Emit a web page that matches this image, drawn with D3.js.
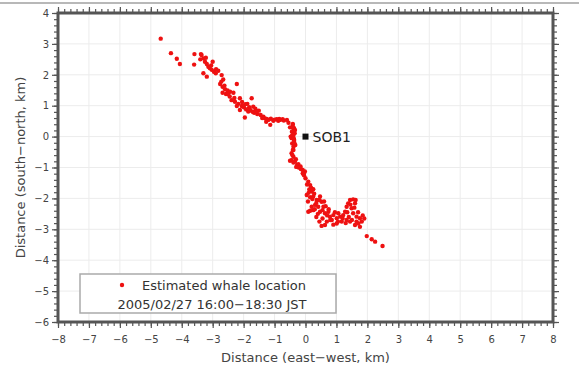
<!DOCTYPE html>
<html>
<head>
<meta charset="utf-8">
<script src="https://cdn.jsdelivr.net/npm/d3@7"></script>
<style>
  body { margin: 0; background: #fff; }
  svg { display: block; font-family: "DejaVu Sans", sans-serif; }
</style>
</head>
<body>
<div id="chart"></div>
<script>
// Estimated whale positions (km)
const whaleX = [
  -4.68, -4.35, -4.16, -4.06, -3.59, -3.60, -3.38,
  -3.36, -3.30, -3.25, -3.19, -3.14, -3.09, -3.03, -2.96, -2.89, -2.82, -3.00, -3.30, -3.19,
  -2.71, -2.66, -2.76, -2.68, -2.60, -2.52, -2.44, -2.33, -2.22, -2.68, -2.57,
  -2.39, -2.28, -2.17, -2.12, -2.06, -1.99, -1.92, -1.88, -1.82, -1.77, -1.74, -1.66, -1.62, -1.56, -1.51,
  -1.96, -2.12, -2.22, -1.69, -1.85,
  -1.31, -1.20, -1.12, -1.04, -0.93, -0.82, -0.74, -1.14, -1.27, -1.36, -0.88,
  -0.41, -0.37, -0.39, -0.44, -0.41, -0.39, -0.44, -0.39, -0.45, -0.37, -0.43, -0.39, -0.41, -0.35, -0.48,
  -0.34, -0.41, -0.37, -0.33, -0.39, -0.45, -0.34, -0.27,
  -0.50, -0.39, -0.31, -0.23, -0.16, -0.09, -0.02, -0.09, -0.39, -0.45,
  0.09, 0.15, 0.12, 0.20, 0.04, 0.15, 0.25, 0.36, 0.47, 0.52, 0.31, 0.41, 0.58, 0.20,
  0.09, 0.25, 0.47, 0.63, 0.74, 0.79, 0.90, 1.01, 0.85, 0.69, 0.52, 0.63,
  1.12, 1.06, 1.22, 1.28, 1.33, 1.38, 1.44, 1.54, 1.60, 1.49, 1.54, 1.65, 1.76, 1.82, 1.71, 1.60,
  1.44, 1.33, 1.17, 1.01, 1.76,
  1.98, 2.14, 2.25, 2.49,
  0.05, 0.18, 0.10, 0.28, 0.22, 0.08, 0.35, 0.45, 0.30, 0.15, 0.40, 0.55, 0.65, 0.70, 0.55, 0.45,
  0.80, 0.95, 1.05, 0.90, 1.20, 1.30, 1.50, 1.65, 1.40, 1.70, 1.85, 1.90, 1.45, 1.58, 1.62, 1.35,
  0.35, 0.60, 0.75, 0.25, 0.00, -0.05,
  -2.45, -2.30, -2.05, -1.95, -1.80, -1.70, -1.60, -1.45, -2.50, -2.62, -2.72, -2.90, -3.05, -3.22, -3.40,
  -1.40, -1.25, -1.00, -0.85, -0.70, -0.60, -0.55, -0.50,
  -0.42, -0.38, -0.36, -0.42, -0.30, -0.22, -0.15, -0.05
];
const whaleY = [
  3.17, 2.70, 2.52, 2.35, 2.67, 2.33, 2.67,
  2.64, 2.53, 2.42, 2.35, 2.26, 2.21, 2.16, 2.10, 2.18, 2.13, 2.42, 2.05, 1.94,
  1.99, 1.85, 1.70, 1.61, 1.53, 1.49, 1.45, 1.42, 1.70, 1.42, 1.38,
  1.18, 1.13, 1.06, 1.24, 0.99, 0.95, 0.88, 1.06, 0.95, 0.84, 1.24, 0.77, 0.90, 0.73, 0.84,
  0.62, 0.86, 0.99, 0.97, 0.81,
  0.59, 0.54, 0.58, 0.51, 0.56, 0.54, 0.56, 0.38, 0.48, 0.64, 0.51,
  0.38, 0.27, 0.16, 0.02, 0.41, 0.27, 0.16, 0.05, -0.05, -0.11, -0.22, -0.33, -0.43, 0.11, 0.00,
  0.21, 0.05, -0.11, -0.27, -0.43, -0.76, -0.81, -0.92,
  -0.78, -0.84, -0.73, -0.89, -0.97, -1.08, -1.13, -1.19, -0.65, -0.54,
  -1.46, -1.57, -1.71, -1.78, -1.89, -1.96, -1.94, -2.05, -1.94, -2.11, -2.21, -2.27, -2.27, -2.27,
  -2.43, -2.38, -2.43, -2.48, -2.43, -2.59, -2.54, -2.64, -2.70, -2.75, -2.89, -2.86,
  -2.59, -2.48, -2.54, -2.43, -2.27, -2.16, -2.05, -2.03, -2.16, -2.32, -2.48, -2.59, -2.64, -2.75, -2.81, -2.86,
  -2.75, -2.70, -2.75, -2.81, -2.92,
  -3.22, -3.32, -3.40, -3.54,
  -1.55, -1.65, -1.82, -1.85, -2.02, -2.10, -2.15, -2.05, -2.35, -2.40, -2.50, -2.38, -2.25, -2.55, -2.65, -2.75,
  -2.70, -2.45, -2.75, -2.85, -2.65, -2.80, -2.70, -2.75, -2.60, -2.45, -2.55, -2.65, -2.20, -2.30, -2.05, -2.45,
  -2.60, -2.10, -2.35, -1.70, -1.35, -1.25,
  1.30, 1.25, 1.12, 1.05, 0.88, 0.80, 0.82, 0.70, 1.38, 1.65, 1.78, 2.05, 2.30, 2.55, 2.50,
  0.60, 0.57, 0.55, 0.57, 0.52, 0.54, 0.45, 0.30,
  0.30, -0.05, -0.20, -0.60, -0.98, -1.00, -1.05, -1.20
];

// Station
const stationName = ["SOB1"];
const stationX = [0];
const stationY = [0];

// Axes
const xTicks = [-8, -7, -6, -5, -4, -3, -2, -1, 0, 1, 2, 3, 4, 5, 6, 7, 8];
const yTicks = [-6, -5, -4, -3, -2, -1, 0, 1, 2, 3, 4];
const xTitle = "Distance (east\u2212west, km)";
const yTitle = "Distance (south\u2212north, km)";
const legendLines = ["Estimated whale location", "2005/02/27 16:00\u221218:30 JST"];

const W = 579, H = 371;
const margin = { top: 13, right: 26, bottom: 49, left: 58 };

const svg = d3.select('#chart').append('svg')
  .attr('width', W)
  .attr('height', H);

// gray rule across the top of the page
svg.append('line')
  .attr('x1', 0).attr('x2', W)
  .attr('y1', 3).attr('y2', 3)
  .attr('stroke', '#b8b8b8')
  .attr('stroke-width', 2);

const x = d3.scaleLinear().domain([-8, 8]).range([margin.left, W - margin.right]);
const y = d3.scaleLinear().domain([-6, 4]).range([H - margin.bottom, margin.top]);

// grid
svg.append('g')
  .selectAll('line')
  .data(xTicks)
  .enter().append('line')
  .attr('x1', d => x(d)).attr('x2', d => x(d))
  .attr('y1', y(-6)).attr('y2', y(4))
  .attr('stroke', '#ececec');
svg.append('g')
  .selectAll('line')
  .data(yTicks)
  .enter().append('line')
  .attr('y1', d => y(d)).attr('y2', d => y(d))
  .attr('x1', x(-8)).attr('x2', x(8))
  .attr('stroke', '#ececec');

// minor ticks every 0.2 km
const minorX = d3.range(-8, 8.001, 0.2);
const minorY = d3.range(-6, 4.001, 0.2);

function styleAxis(g) {
  g.select('.domain').remove();
  g.selectAll('.tick line').attr('stroke', '#555').attr('stroke-width', 1.2);
  g.selectAll('.tick text')
    .attr('fill', '#444')
    .style('font-family', '"DejaVu Sans", sans-serif')
    .style('font-size', '10px');
}

const bottomY = y(-6), topY = y(4), leftX = x(-8), rightX = x(8);

svg.append('g').attr('transform', `translate(0,${bottomY + 1})`)
  .call(d3.axisBottom(x).tickValues(minorX).tickSize(3).tickFormat(''))
  .call(styleAxis);
svg.append('g').attr('transform', `translate(0,${bottomY + 1})`)
  .call(d3.axisBottom(x).tickValues(xTicks).tickSize(5).tickPadding(8))
  .call(styleAxis);
svg.append('g').attr('transform', `translate(0,${topY - 1})`)
  .call(d3.axisTop(x).tickValues(minorX).tickSize(3).tickFormat(''))
  .call(styleAxis);
svg.append('g').attr('transform', `translate(0,${topY - 1})`)
  .call(d3.axisTop(x).tickValues(xTicks).tickSize(5).tickFormat(''))
  .call(styleAxis);

svg.append('g').attr('transform', `translate(${leftX - 1},0)`)
  .call(d3.axisLeft(y).tickValues(minorY).tickSize(3).tickFormat(''))
  .call(styleAxis);
svg.append('g').attr('transform', `translate(${leftX - 1},0)`)
  .call(d3.axisLeft(y).tickValues(yTicks).tickSize(5).tickPadding(3))
  .call(styleAxis);
svg.append('g').attr('transform', `translate(${rightX + 1},0)`)
  .call(d3.axisRight(y).tickValues(minorY).tickSize(3).tickFormat(''))
  .call(styleAxis);
svg.append('g').attr('transform', `translate(${rightX + 1},0)`)
  .call(d3.axisRight(y).tickValues(yTicks).tickSize(5).tickFormat(''))
  .call(styleAxis);

// thick frame
svg.append('rect')
  .attr('x', leftX).attr('y', topY)
  .attr('width', rightX - leftX).attr('height', bottomY - topY)
  .attr('fill', 'none')
  .attr('stroke', '#555')
  .attr('stroke-width', 3);

// axis titles
svg.append('text')
  .attr('x', (leftX + rightX) / 2)
  .attr('y', 362)
  .attr('text-anchor', 'middle')
  .attr('fill', '#444')
  .style('font-size', '13px')
  .text(xTitle);
svg.append('text')
  .attr('transform', `translate(25,${(topY + bottomY) / 2}) rotate(-90)`)
  .attr('text-anchor', 'middle')
  .attr('fill', '#444')
  .style('font-size', '13px')
  .text(yTitle);

// whale points
const pts = whaleX.map((v, i) => ({ x: v, y: whaleY[i] }));
svg.append('g')
  .selectAll('circle')
  .data(pts)
  .enter().append('circle')
  .attr('cx', d => x(d.x))
  .attr('cy', d => y(d.y))
  .attr('r', 2.2)
  .attr('fill', '#ee1111');

// station marker
stationName.forEach((name, i) => {
  svg.append('rect')
    .attr('x', x(stationX[i]) - 3).attr('y', y(stationY[i]) - 3)
    .attr('width', 6).attr('height', 6)
    .attr('fill', '#111');
  svg.append('text')
    .attr('x', x(stationX[i]) + 7)
    .attr('y', y(stationY[i]))
    .attr('dy', '0.36em')
    .attr('fill', '#222')
    .style('font-size', '14px')
    .text(name);
});

// legend
const lg = svg.append('g');
lg.append('rect')
  .attr('x', 80).attr('y', 274)
  .attr('width', 256).attr('height', 39)
  .attr('fill', '#fff')
  .attr('stroke', '#aaa')
  .attr('stroke-width', 1.5);
lg.append('circle')
  .attr('cx', 122).attr('cy', 285)
  .attr('r', 2.2)
  .attr('fill', '#ee1111');
lg.append('text')
  .attr('x', 142).attr('y', 285).attr('dy', '0.36em')
  .attr('fill', '#333')
  .style('font-size', '13px')
  .text(legendLines[0]);
lg.append('text')
  .attr('x', 212).attr('y', 304).attr('dy', '0.36em')
  .attr('text-anchor', 'middle')
  .attr('fill', '#333')
  .style('font-size', '13px')
  .text(legendLines[1]);
</script>
</body>
</html>
